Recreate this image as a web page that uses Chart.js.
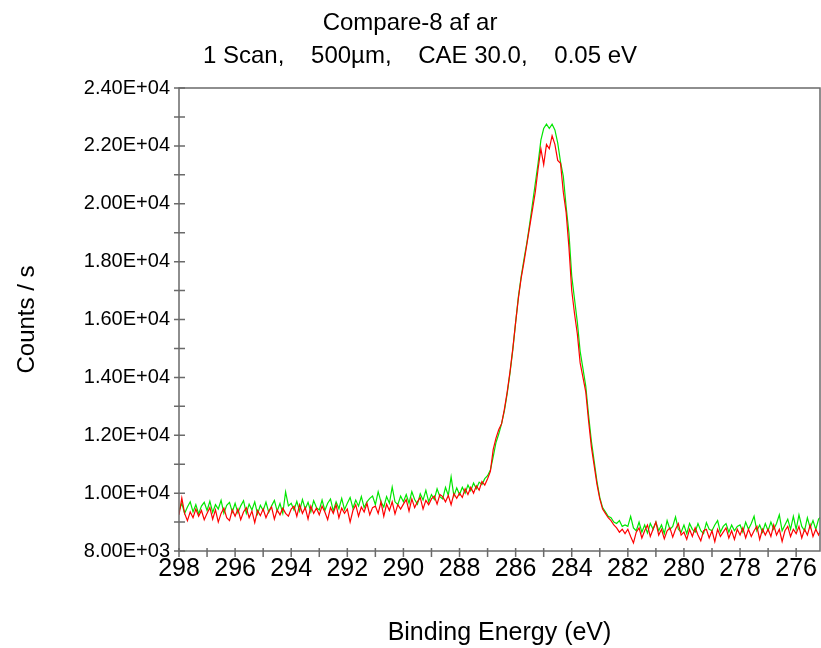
<!DOCTYPE html>
<html>
<head>
<meta charset="utf-8">
<script src="https://cdn.jsdelivr.net/npm/chart.js@4/dist/chart.umd.min.js"></script>
<style>
  html, body { margin: 0; padding: 0; background: #fff; }
  #wrap { width: 821px; height: 648px; }
</style>
</head>
<body>
<div id="wrap"><canvas id="xps"></canvas></div>
<script>
// Energy grid of the scan (eV), 0.1 eV steps from 298.0 down to 275.1
const startEV = 298.0;
const stepEV = 0.1;
const nPoints = 230;

// Counts / s, one row per eV (298.0 ... 275.1)
const greenCounts = [
  9380, 9650, 9300, 9520, 9700, 9350, 9600, 9280, 9550, 9680,
  9400, 9720, 9330, 9600, 9450, 9750, 9300, 9580, 9680, 9350,
  9650, 9320, 9560, 9740, 9300, 9620, 9420, 9700, 9280, 9580,
  9400, 9690, 9330, 9560, 9750, 9380, 9640, 9300, 10040, 9560,
  9650, 9420, 9720, 9380, 9780, 9450, 9680, 9350, 9740, 9500,
  9420, 9760, 9400, 9650, 9800, 9380, 9700, 9460, 9820, 9430,
  9650, 9850, 9480, 9760, 9550, 9880, 9500, 9700, 9820, 9900,
  9600, 10050, 9700, 9520, 9880, 9650, 10210, 9700, 9600, 9900,
  9700, 9950, 9650, 10050, 9780, 9620, 9980, 9760, 10100, 9700,
  9950, 9780, 10150, 9880, 9800, 10200, 9920, 10560, 9900, 10180,
  9950, 10200, 10000, 10280, 10080, 10350, 10150, 10380, 10300, 10500,
  10600, 10800, 11250, 11750, 12050, 12400, 12850, 13450, 14150, 14950,
  15900, 16800, 17500, 18100, 18650, 19300, 20000, 20700, 21400, 22200,
  22600, 22750, 22600, 22750, 22550, 22100, 21450, 20950, 19900, 19000,
  17500, 16700, 15900, 14900, 14300, 13700, 12700, 11800, 11100, 10400,
  9850, 9500, 9350, 9200, 9150, 9000, 8950, 9050, 8850, 8900,
  8850, 9200, 8800, 8700, 9000, 8650, 8900, 8620, 8950, 8750,
  9000, 8700, 8900, 8600, 9050, 8750, 8850, 9180, 8750, 8650,
  8900, 8600, 8950, 8750, 8650, 8950, 8700, 8600, 8980, 8750,
  8700, 8900, 9050, 8650, 8850, 8950, 8650, 8900, 8700, 8850,
  8900, 8650, 9000, 8750, 8950, 9200, 8700, 8900, 8650, 8950,
  8700, 9000, 8750, 8950, 9250, 8700, 8900, 9100, 8750, 9200,
  8750, 9250, 8850, 8700, 9150, 8800, 9050, 8750, 9100, 9200
];

const redCounts = [
  9250, 9830, 9300, 9050, 9350, 9150, 9450, 9200, 9400, 9080,
  9300, 9500, 9100, 9420, 9000, 9300, 9480, 9150, 9050, 9420,
  9200, 9450, 9080, 9350, 9500, 9150, 9380, 8980, 9400, 9220,
  9450, 9150, 9380, 9520, 9100, 9420, 9250, 9480, 9300, 9200,
  9450, 9550, 9200, 9600, 9300, 9500, 9100, 9550, 9300, 9480,
  9250, 9550, 9350, 9080, 9500, 9300, 9600, 9150, 9480, 9300,
  9450, 9000, 9400, 9600, 9200, 9520, 9350, 9650, 9250, 9500,
  9550, 9300, 9700, 9200, 9620, 9400, 9700, 9280, 9600, 9450,
  9620, 9780, 9380, 9800, 9500, 9700, 9850, 9450, 9750, 9600,
  9800, 9900, 9620, 9950, 9880, 9700, 9920, 9600, 9980, 9820,
  10000, 9850, 10150, 9950, 10200, 10000, 10250, 10100, 10400, 10280,
  10500, 10750, 11500, 11900, 12200, 12400, 12900, 13500, 14200, 15000,
  15900, 16750, 17450, 18000, 18600, 19200, 19800, 20400, 21200, 21900,
  21350, 22050, 21900, 22350, 22050, 21500, 21400, 20400, 19700, 18500,
  17000, 16200, 15500, 14500, 14000, 13500, 12500, 11600, 10950, 10300,
  9800, 9450, 9300, 9150, 9050, 8900, 8800, 8650, 8750, 8600,
  8750, 8500, 8280, 8650, 8800, 8450, 8700, 8900, 8500, 8750,
  9000, 8550, 8750, 8420, 8700, 8800, 8480, 8750, 8950, 8550,
  8650, 8400, 8750, 8500, 8800, 8550, 8350, 8700, 8750, 8450,
  8700, 8320, 8750, 8500, 8650, 8800, 8450, 8700, 8400, 8750,
  8550, 8800, 8450, 8750, 8500, 8700, 8850, 8400, 8750, 8550,
  8750, 8500, 8900, 8550, 8750, 8330, 8700, 8850, 8500, 8750,
  8600, 8850, 8450, 8750, 8550, 8900, 8500, 8750, 8550, 8800
];

const titleLines = ['Compare-8 af ar', '   1 Scan,    500µm,    CAE 30.0,    0.05 eV'];
const xTitle = 'Binding Energy (eV)';
const yTitle = 'Counts / s';

const energies = [];
for (let i = 0; i < nPoints; i++) {
  energies.push(+(startEV - i * stepEV).toFixed(2));
}

const toPoints = (vals) => vals.map((v, i) => ({ x: energies[i], y: v }));

// 2.40E+04 style labels
const sci = (v) => {
  const [m, e] = v.toExponential(2).split('e');
  const n = Math.abs(parseInt(e, 10));
  return m + 'E' + (e[0] === '-' ? '-' : '+') + (n < 10 ? '0' + n : n);
};

const FONT = "'Liberation Sans', Arial, sans-serif";
const AXIS_COLOR = '#6a6a6a';

// frame + tick marks crossing the axes
const framePlugin = {
  id: 'frame',
  afterDraw(chart) {
    const { ctx, chartArea: a, scales } = chart;
    ctx.save();
    ctx.strokeStyle = AXIS_COLOR;
    ctx.lineWidth = 1.5;
    ctx.strokeRect(a.left, a.top, a.right - a.left, a.bottom - a.top);
    ctx.beginPath();
    scales.x.ticks.forEach(t => {
      const px = scales.x.getPixelForValue(t.value);
      ctx.moveTo(px, a.bottom - 3);
      ctx.lineTo(px, a.bottom + 6);
    });
    scales.y.ticks.forEach(t => {
      const py = scales.y.getPixelForValue(t.value);
      ctx.moveTo(a.left - 5, py);
      ctx.lineTo(a.left + 6, py);
    });
    ctx.stroke();
    ctx.restore();
  }
};

new Chart(document.getElementById('xps'), {
  type: 'line',
  data: {
    datasets: [
      {
        label: 'ar',
        data: toPoints(redCounts),
        borderColor: '#ff0000',
        borderWidth: 1.2,
        pointRadius: 0,
        tension: 0
      },
      {
        label: 'af',
        data: toPoints(greenCounts),
        borderColor: '#00e600',
        borderWidth: 1.2,
        pointRadius: 0,
        tension: 0
      }
    ]
  },
  plugins: [framePlugin],
  options: {
    responsive: true,
    maintainAspectRatio: false,
    animation: false,
    layout: { padding: { top: 0, right: 1, bottom: 0, left: 0 } },
    plugins: {
      legend: { display: false },
      tooltip: { enabled: false },
      title: {
        display: true,
        text: titleLines,
        color: '#000',
        font: { family: FONT, size: 24, weight: 'normal', lineHeight: 1.375 },
        padding: { top: 7, bottom: 15 }
      }
    },
    scales: {
      x: {
        type: 'linear',
        reverse: true,
        min: 275.15,
        max: 298,
        afterBuildTicks: (s) => {
          const ticks = [];
          for (let v = Math.ceil(s.min); v <= s.max; v++) ticks.push({ value: v });
          s.ticks = ticks;
        },
        afterFit: (s) => { s.height = 97; },
        grid: { display: false, drawTicks: false },
        border: { display: false },
        ticks: {
          autoSkip: false,
          maxRotation: 0,
          padding: 3,
          color: '#000',
          font: { family: FONT, size: 25 },
          callback: (v) => (Math.round(v) % 2 === 0 ? String(Math.round(v)) : '')
        },
        title: {
          display: true,
          text: xTitle,
          color: '#000',
          font: { family: FONT, size: 25 },
          padding: { top: 0, bottom: 0 }
        }
      },
      y: {
        min: 8000,
        max: 24000,
        afterFit: (s) => { s.width = 179; },
        grid: { display: false, drawTicks: false },
        border: { display: false },
        ticks: {
          stepSize: 1000,
          autoSkip: false,
          padding: 9,
          color: '#000',
          font: { family: FONT, size: 20 },
          callback: (v) => (Math.round(v) % 2000 === 0 ? sci(v) : '')
        },
        title: {
          display: true,
          text: yTitle,
          color: '#000',
          font: { family: FONT, size: 24 },
          padding: { top: 13, bottom: 0 }
        }
      }
    }
  }
});
</script>
</body>
</html>
